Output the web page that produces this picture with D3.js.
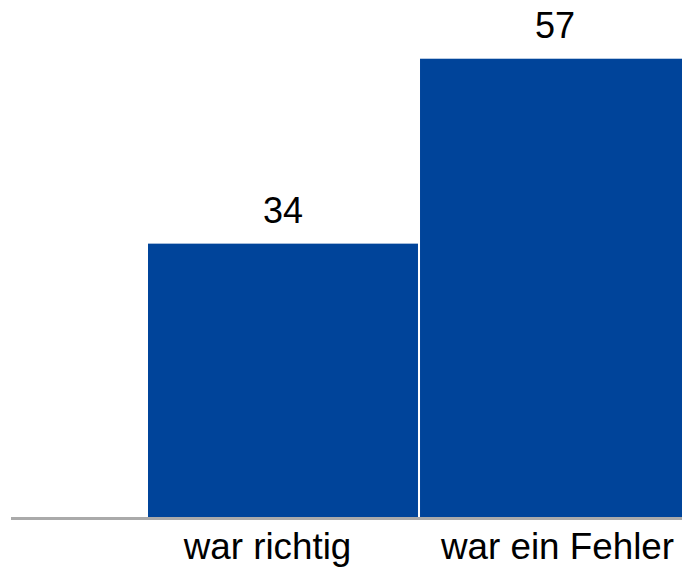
<!DOCTYPE html>
<html>
<head>
<meta charset="utf-8">
<script src="https://cdn.jsdelivr.net/npm/d3@7"></script>
<style>
  html, body { margin: 0; padding: 0; background: #ffffff; }
  svg { display: block; }
  text { font-family: "Liberation Sans", Arial, sans-serif; fill: #000; }
</style>
</head>
<body>
<svg id="chart" width="682" height="569"></svg>
<script>
const categories = ["war richtig", "war ein Fehler"];
const values = [34, 57];
const yMaxDomain = 60;

const W = 682, H = 569;
const svg = d3.select("#chart");

const x = d3.scaleBand()
  .domain(categories)
  .range([148, 690])
  .paddingInner(0.0075)
  .paddingOuter(0);

const y = d3.scaleLinear()
  .domain([0, yMaxDomain])
  .range([517, 517 - yMaxDomain * 8.04]);

// bars
svg.selectAll("rect.bar")
  .data(categories)
  .enter().append("rect")
  .attr("class", "bar")
  .attr("x", d => x(d))
  .attr("width", x.bandwidth())
  .attr("y", (d, i) => y(values[i]))
  .attr("height", (d, i) => y(0) - y(values[i]))
  .attr("fill", "#00449a");

// baseline
svg.append("line")
  .attr("x1", 11).attr("x2", W)
  .attr("y1", y(0) + 1.5).attr("y2", y(0) + 1.5)
  .attr("stroke", "#aaaaaa")
  .attr("stroke-width", 3);

// value labels
svg.selectAll("text.val")
  .data(categories)
  .enter().append("text")
  .attr("class", "val")
  .attr("x", d => x(d) + x.bandwidth() / 2)
  .attr("y", (d, i) => y(values[i]) - 21)
  .attr("text-anchor", "middle")
  .style("font-size", "36px")
  .text((d, i) => values[i]);

// category labels
const labelShift = [-15.5, 2.5];
svg.selectAll("text.cat")
  .data(categories)
  .enter().append("text")
  .attr("class", "cat")
  .attr("x", (d, i) => x(d) + x.bandwidth() / 2 + labelShift[i])
  .attr("y", 559)
  .attr("text-anchor", "middle")
  .style("font-size", "36.8px")
  .text(d => d);
</script>
</body>
</html>
